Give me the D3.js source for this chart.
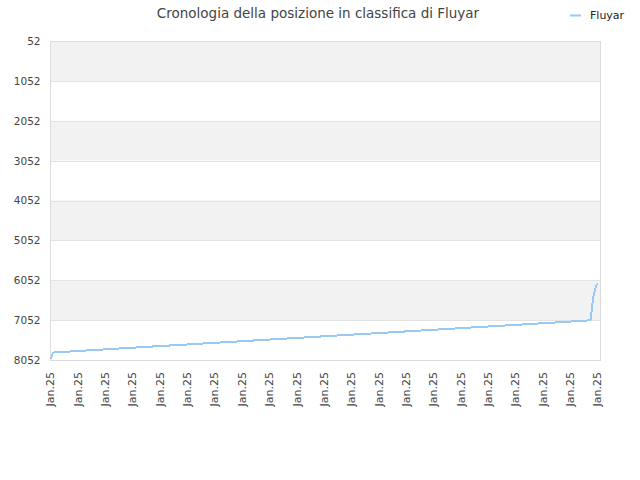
<!DOCTYPE html>
<html>
<head>
<meta charset="utf-8">
<script src="https://cdn.jsdelivr.net/npm/d3@7"></script>
<style>
  body { margin: 0; background: #fff; }
  text { font-family: "DejaVu Sans", sans-serif; }
</style>
</head>
<body>
<div id="chart"></div>
<script>
const title = "Cronologia della posizione in classifica di Fluyar";
const seriesName = "Fluyar";

// rank readings (lower = better), one per timestamp
const times = [
  "2025-01-01T00:00", "2025-01-01T01:00", "2025-01-01T03:00",
  "2025-01-02T00:00", "2025-01-03T00:00", "2025-01-04T00:00", "2025-01-05T00:00",
  "2025-01-06T00:00", "2025-01-07T00:00", "2025-01-08T00:00", "2025-01-09T00:00",
  "2025-01-10T00:00", "2025-01-11T00:00", "2025-01-12T00:00", "2025-01-13T00:00",
  "2025-01-14T00:00", "2025-01-15T00:00", "2025-01-16T00:00", "2025-01-17T00:00",
  "2025-01-18T00:00", "2025-01-19T00:00", "2025-01-20T00:00", "2025-01-21T00:00",
  "2025-01-22T00:00", "2025-01-23T00:00", "2025-01-24T00:00", "2025-01-25T00:00",
  "2025-01-26T00:00", "2025-01-27T00:00", "2025-01-28T00:00", "2025-01-29T00:00",
  "2025-01-30T00:00", "2025-01-30T14:00", "2025-01-30T15:00", "2025-01-30T16:30",
  "2025-01-30T18:00", "2025-01-30T20:00", "2025-01-30T22:00", "2025-01-31T00:00"
];
const ranks = [
  8030, 7950, 7865,
  7840, 7811, 7785, 7756,
  7730, 7701, 7676, 7648,
  7620, 7594, 7566, 7539,
  7511, 7484, 7457, 7430,
  7402, 7375, 7348, 7321,
  7293, 7266, 7238, 7211,
  7184, 7157, 7129, 7101,
  7074, 7056, 6920, 6670,
  6460, 6300, 6175, 6130
];

const yTicks = [52, 1052, 2052, 3052, 4052, 5052, 6052, 7052, 8052];
const xTickCount = 21;

const width = 640, height = 480;
const plot = { left: 50.5, right: 600.5, top: 41, bottom: 360 };

const parse = d3.timeParse("%Y-%m-%dT%H:%M");
const data = times.map((t, i) => ({ date: parse(t), rank: ranks[i] }));

const svg = d3.select("#chart")
  .append("svg")
  .attr("width", width)
  .attr("height", height);

const x = d3.scaleTime()
  .domain(d3.extent(data, d => d.date))
  .range([51, 598]);

const y = d3.scaleLinear()
  .domain([yTicks[0], yTicks[yTicks.length - 1]])
  .range([plot.top, plot.bottom]);

// alternating bands
const bands = d3.pairs(yTicks).filter((d, i) => i % 2 === 0);
svg.selectAll(".band")
  .data(bands)
  .enter()
  .append("rect")
  .attr("class", "band")
  .attr("x", plot.left)
  .attr("width", plot.right - plot.left)
  .attr("y", d => y(d[0]))
  .attr("height", d => y(d[1]) - y(d[0]))
  .attr("fill", "#f2f2f2");

// gridlines
svg.selectAll(".grid")
  .data(yTicks)
  .enter()
  .append("line")
  .attr("class", "grid")
  .attr("x1", plot.left)
  .attr("x2", plot.right)
  .attr("y1", d => Math.round(y(d)) + 0.5)
  .attr("y2", d => Math.round(y(d)) + 0.5)
  .attr("stroke", "#e3e3e3")
  .attr("stroke-width", 1);

// frame
svg.append("rect")
  .attr("x", plot.left)
  .attr("y", plot.top + 0.5)
  .attr("width", plot.right - plot.left)
  .attr("height", plot.bottom - plot.top)
  .attr("fill", "none")
  .attr("stroke", "#dcdcdc");

// y axis labels
const yAxis = svg.append("g")
  .attr("transform", `translate(${plot.left - 10},0)`)
  .call(d3.axisLeft(y).tickValues(yTicks).tickSize(0).tickPadding(0).tickFormat(d3.format("d")));
yAxis.select(".domain").remove();
yAxis.selectAll("text")
  .style("font-size", "10.5px")
  .attr("fill", "#444");

// x axis labels
const start = x.domain()[0].getTime(), end = x.domain()[1].getTime();
const xTickValues = d3.range(xTickCount).map(i => new Date(start + i * (end - start) / (xTickCount - 1)));
const xAxis = svg.append("g")
  .attr("transform", `translate(0,${plot.bottom})`)
  .call(d3.axisBottom(x).tickValues(xTickValues).tickSize(0).tickFormat(d3.timeFormat("%b.%y")));
xAxis.select(".domain").remove();
xAxis.selectAll("text")
  .style("font-size", "11px")
  .attr("fill", "#444")
  .attr("text-anchor", "end")
  .attr("transform", "rotate(-90)")
  .attr("x", -12)
  .attr("y", -1)
  .attr("dy", "0.35em");

// series line
const line = d3.line()
  .x(d => x(d.date))
  .y(d => y(d.rank));

svg.append("path")
  .datum(data)
  .attr("d", line)
  .attr("fill", "none")
  .attr("stroke", "#99c8f2")
  .attr("stroke-width", 2)
  .attr("shape-rendering", "crispEdges");

// title
svg.append("text")
  .attr("x", 318)
  .attr("y", 17.5)
  .attr("text-anchor", "middle")
  .style("font-size", "13.5px")
  .attr("fill", "#444")
  .text(title);

// legend
svg.append("line")
  .attr("x1", 570)
  .attr("x2", 581)
  .attr("y1", 15.5)
  .attr("y2", 15.5)
  .attr("stroke", "#99c8f2")
  .attr("stroke-width", 2);
svg.append("text")
  .attr("x", 590)
  .attr("y", 19)
  .style("font-size", "11px")
  .attr("fill", "#222")
  .text(seriesName);
</script>
</body>
</html>
